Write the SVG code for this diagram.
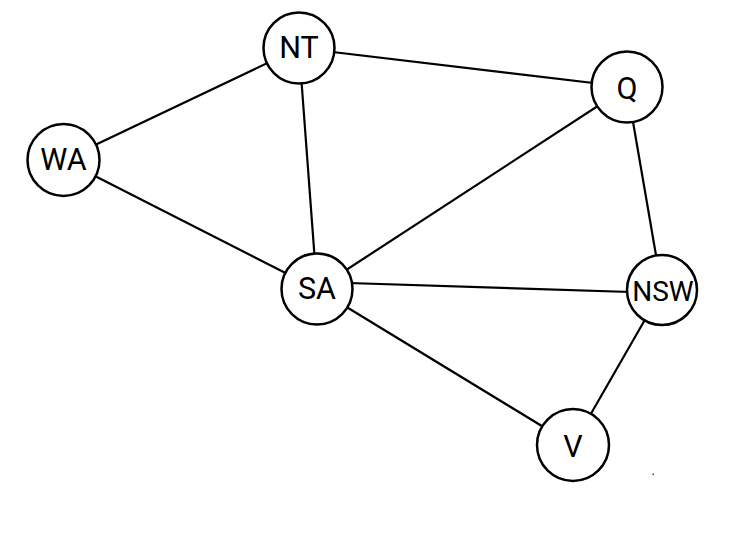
<svg xmlns="http://www.w3.org/2000/svg" width="734" height="534" viewBox="0 0 734 534">
<style>
.e{stroke:#000;stroke-width:2.2;fill:none}
.n circle{fill:#fff;stroke:#000;stroke-width:2.5}
.n text{font-family:Roboto,"Liberation Sans",sans-serif;font-size:30.5px;fill:#000;text-anchor:middle;dominant-baseline:central}
</style>
<rect width="734" height="534" fill="#fff"/>
<g id="edges">
<line class="e" x1="63.5" y1="160" x2="299" y2="48"/>
<line class="e" x1="299" y1="48" x2="627" y2="87"/>
<line class="e" x1="299" y1="48" x2="317" y2="289"/>
<line class="e" x1="63.5" y1="160" x2="317" y2="289"/>
<line class="e" x1="317" y1="289" x2="627" y2="87"/>
<line class="e" x1="317" y1="282" x2="662" y2="293"/>
<line class="e" x1="627" y1="87" x2="662" y2="290"/>
<line class="e" x1="317" y1="289" x2="573" y2="445"/>
<line class="e" x1="662" y1="290" x2="573" y2="445"/>
</g>
<g id="NT" class="n"><circle cx="299" cy="48" r="35.5"/><text x="299" y="47">NT</text></g>
<g id="Q" class="n"><circle cx="627" cy="87" r="35.5"/><text x="627" y="88">Q</text></g>
<g id="WA" class="n"><circle cx="63.5" cy="160" r="36"/><text x="63.5" y="159">WA</text></g>
<g id="SA" class="n"><circle cx="317" cy="289" r="35.5"/><text x="317" y="288">SA</text></g>
<g id="NSW" class="n"><circle cx="662" cy="290" r="35"/><text x="663" y="291" style="font-size:28px">NSW</text></g>
<g id="V" class="n"><circle cx="573" cy="445" r="36"/><text x="573" y="446">V</text></g>
<rect x="652.5" y="473.5" width="1.5" height="1.5" fill="#444"/>
</svg>
